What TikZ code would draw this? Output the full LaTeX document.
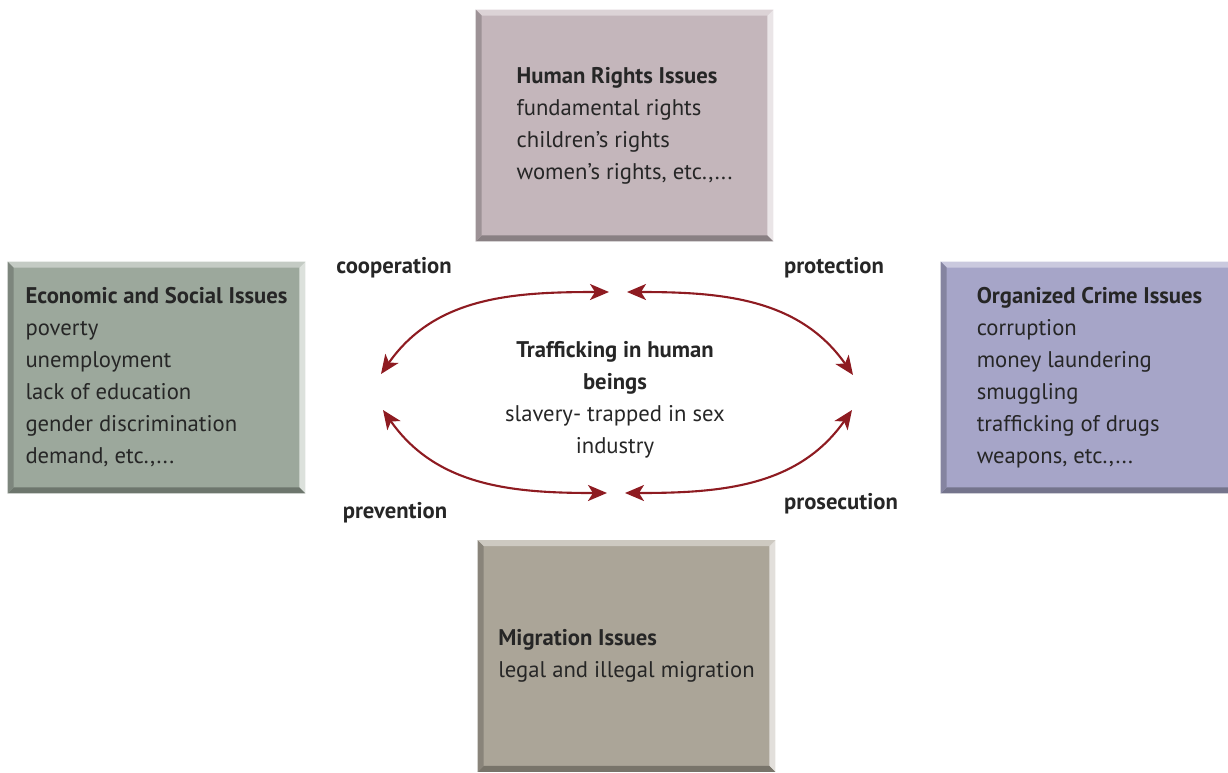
\documentclass[tikz,border=0pt]{standalone}
\usepackage{fontspec}
\setmainfont{PT Sans}
\usepackage{tikz}
\usetikzlibrary{arrows.meta,calc,positioning}
\definecolor{hrcol}{HTML}{C4B6BB}
\definecolor{eccol}{HTML}{9CA89C}
\definecolor{occol}{HTML}{A6A5C8}
\definecolor{micol}{HTML}{ABA598}
\definecolor{arcol}{HTML}{8E1B21}
\definecolor{txcol}{HTML}{262626}
\tikzset{font=\fontsize{12.9}{18.2}\selectfont}
\tikzstyle{issue}=[rectangle,inner sep=0pt,minimum width=5.94cm,minimum height=4.62cm,align=left,text=txcol]
\tikzstyle{tie}=[<->,>={Stealth[length=0.38cm,width=0.32cm,inset=0.1cm]},draw=arcol,line width=1.2pt]
\tikzstyle{lbl}=[text=txcol,font=\fontsize{12.9}{18.2}\selectfont\bfseries]

\begin{document}
\begin{tikzpicture}[x=0.02cm,y=0.02cm]
\useasboundingbox (0,0) rectangle (1228,-772);
\node[issue,fill=hrcol] (hr) at (624.5,-125.5) {\textbf{Human Rights Issues}\\fundamental rights\\children's rights\\women's rights, etc.,...};
\node[issue,fill=eccol] (ec) at (156.5,-377.5) {\textbf{Economic and Social Issues}\\poverty\\unemployment\\lack of education\\gender discrimination\\demand, etc.,...};
\node[issue,fill=occol] (oc) at (1089.5,-377.5) {\textbf{Organized Crime Issues}\\corruption\\money laundering\\smuggling\\trafficking of drugs\\weapons, etc.,...};
\node[issue,fill=micol] (mi) at (626.5,-656) {\textbf{Migration Issues}\\legal and illegal migration};
% bevelled edges
\foreach \b/\c in {hr/hrcol,ec/eccol,oc/occol,mi/micol}{
  \fill[\c!60!white] (\b.north west) -- (\b.north east) -- ($(\b.north east)+(-6,-6)$) -- ($(\b.north west)+(6,-6)$) -- cycle;
  \fill[\c!35!white] (\b.north east) -- (\b.south east) -- ($(\b.south east)+(-6,6)$) -- ($(\b.north east)+(-6,-6)$) -- cycle;
  \fill[\c!70!black] (\b.south east) -- (\b.south west) -- ($(\b.south west)+(6,6)$) -- ($(\b.south east)+(-6,6)$) -- cycle;
  \fill[\c!80!black] (\b.south west) -- (\b.north west) -- ($(\b.north west)+(6,-6)$) -- ($(\b.south west)+(6,6)$) -- cycle;
}
\node[align=center,text=txcol] (th) at (615,-400) {\textbf{Trafficking in human}\\\textbf{beings}\\slavery- trapped in sex\\industry};
\node[lbl] (coop) at (394,-268) {cooperation};
\node[lbl] (prot) at (834,-268) {protection};
\node[lbl] (prev) at (395,-513) {prevention};
\node[lbl] (pros) at (841,-504) {prosecution};
\coordinate (tl1) at (381,-374);
\coordinate (tl2) at (609,-292);
\coordinate (tr1) at (627,-292);
\coordinate (tr2) at (853,-375);
\coordinate (bl1) at (383,-410);
\coordinate (bl2) at (607,-493);
\coordinate (br1) at (625,-493);
\coordinate (br2) at (852,-410);
\draw[tie] (tl1) to[out=55,in=180] (tl2);
\draw[tie] (tr1) to[out=0,in=125] (tr2);
\draw[tie] (bl1) to[out=-55,in=180] (bl2);
\draw[tie] (br1) to[out=0,in=-125] (br2);
\end{tikzpicture}
\end{document}
